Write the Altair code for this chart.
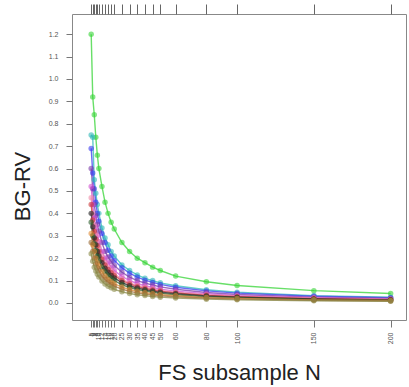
import altair as alt
import pandas as pd

N = [5, 6, 7, 8, 9, 10, 12, 14, 16, 18, 20, 25, 30, 35, 40, 45, 50, 60, 80, 100, 150, 200]

series_names = ["s01", "s02", "s03", "s04", "s05", "s06", "s07", "s08", "s09", "s10", "s11", "s12"]
series_colors = ["#35d435", "#2fb8b8", "#3a3af0", "#7a3aa8", "#d050d0", "#ee8aa8",
                 "#cc3a3a", "#202020", "#2f5f2f", "#e08a35", "#9a6a35", "#8a8a48"]

s01 = [1.20, 0.92, 0.84, 0.74, 0.66, 0.60, 0.52, 0.45, 0.40, 0.36, 0.33, 0.27, 0.23, 0.20, 0.18, 0.16, 0.145, 0.12, 0.095, 0.078, 0.055, 0.042]
s02 = [0.75, 0.74, 0.55, 0.49, 0.44, 0.40, 0.335, 0.29, 0.26, 0.23, 0.21, 0.17, 0.145, 0.125, 0.11, 0.10, 0.09, 0.077, 0.059, 0.048, 0.033, 0.026]
s03 = [0.69, 0.58, 0.51, 0.45, 0.40, 0.365, 0.31, 0.27, 0.235, 0.21, 0.19, 0.157, 0.133, 0.115, 0.102, 0.092, 0.083, 0.07, 0.054, 0.044, 0.030, 0.023]
s04 = [0.60, 0.51, 0.44, 0.39, 0.35, 0.32, 0.27, 0.23, 0.205, 0.185, 0.167, 0.137, 0.115, 0.10, 0.089, 0.08, 0.072, 0.061, 0.047, 0.038, 0.026, 0.020]
s05 = [0.52, 0.44, 0.38, 0.34, 0.30, 0.275, 0.23, 0.20, 0.18, 0.16, 0.145, 0.119, 0.10, 0.087, 0.077, 0.069, 0.062, 0.053, 0.041, 0.033, 0.023, 0.018]
s06 = [0.47, 0.40, 0.345, 0.305, 0.275, 0.25, 0.21, 0.18, 0.16, 0.145, 0.13, 0.107, 0.09, 0.078, 0.07, 0.062, 0.056, 0.048, 0.037, 0.030, 0.021, 0.016]
s07 = [0.44, 0.37, 0.32, 0.285, 0.255, 0.23, 0.195, 0.17, 0.15, 0.135, 0.123, 0.10, 0.085, 0.073, 0.065, 0.058, 0.053, 0.045, 0.034, 0.028, 0.019, 0.015]
s08 = [0.40, 0.34, 0.29, 0.26, 0.23, 0.21, 0.18, 0.155, 0.137, 0.123, 0.112, 0.091, 0.077, 0.067, 0.059, 0.053, 0.048, 0.041, 0.031, 0.026, 0.018, 0.014]
s09 = [0.36, 0.30, 0.265, 0.235, 0.21, 0.19, 0.16, 0.14, 0.123, 0.11, 0.10, 0.082, 0.069, 0.06, 0.053, 0.048, 0.043, 0.037, 0.028, 0.023, 0.016, 0.012]
s10 = [0.31, 0.26, 0.23, 0.20, 0.18, 0.165, 0.14, 0.12, 0.106, 0.095, 0.086, 0.071, 0.06, 0.052, 0.046, 0.041, 0.037, 0.032, 0.024, 0.020, 0.014, 0.011]
s11 = [0.27, 0.23, 0.20, 0.175, 0.157, 0.143, 0.12, 0.105, 0.093, 0.083, 0.075, 0.062, 0.052, 0.045, 0.04, 0.036, 0.032, 0.028, 0.021, 0.017, 0.012, 0.009]
s12 = [0.22, 0.186, 0.16, 0.143, 0.128, 0.116, 0.098, 0.085, 0.075, 0.068, 0.061, 0.05, 0.042, 0.037, 0.033, 0.029, 0.026, 0.022, 0.017, 0.014, 0.010, 0.0075]

y_ticks = [0.0, 0.1, 0.2, 0.3, 0.4, 0.5, 0.6, 0.7, 0.8, 0.9, 1.0, 1.1, 1.2]

all_series = [s01, s02, s03, s04, s05, s06, s07, s08, s09, s10, s11, s12]
rows = []
for name, vals in zip(series_names, all_series):
    for n, v in zip(N, vals):
        rows.append({"N": n, "BGRV": v, "series": name})
df = pd.DataFrame(rows)

color_scale = alt.Scale(domain=series_names, range=series_colors)
x_scale = alt.Scale(domain=[-7.5, 210], nice=False, zero=False)
y_scale = alt.Scale(domain=[-0.076, 1.29], nice=False, zero=False)

x_bottom = alt.X(
    "N:Q", scale=x_scale,
    axis=alt.Axis(
        orient="bottom", values=N, labelAngle=270, labelFontSize=7, labelColor="#555555",
        labelOverlap=False, labelPadding=5, tickSize=7, tickColor="#777777",
        domain=False, grid=False, title="FS subsample N", titleFontSize=22,
        titleFontWeight="normal", titleColor="#222222", titleFont="Liberation Sans",
        titleX=167, titleY=52, titleBaseline="middle", titleAlign="center",
    ),
)
y_left = alt.Y(
    "BGRV:Q", scale=y_scale,
    axis=alt.Axis(
        values=y_ticks, format=".1f", labelFontSize=7, labelColor="#555555",
        labelOverlap=False, tickSize=6, tickColor="#777777", labelPadding=8,
        domain=False, grid=False,
        title="BG-RV", titleFontSize=22, titleFontWeight="normal", titleColor="#222222",
        titleFont="Liberation Sans", titleX=-50, titleY=172, titleAlign="center",
        titleBaseline="middle", titleAngle=270,
    ),
)

base = alt.Chart(df)

lines = base.mark_line(strokeWidth=1.4, opacity=0.75).encode(
    x=x_bottom, y=y_left,
    color=alt.Color("series:N", scale=color_scale, legend=None),
    detail="series:N",
)
points = base.mark_circle(size=30, opacity=0.6).encode(
    x=alt.X("N:Q", scale=x_scale, axis=None),
    y=alt.Y("BGRV:Q", scale=y_scale, axis=None),
    color=alt.Color("series:N", scale=color_scale, legend=None),
)
top_rug = base.mark_point(opacity=0).encode(
    x=alt.X("N:Q", scale=x_scale,
            axis=alt.Axis(orient="top", values=N, labels=False, tickSize=10,
                          tickColor="#666666", domain=False, grid=False, title=None)),
    y=alt.Y("BGRV:Q", scale=y_scale, axis=None),
)

chart = alt.layer(lines, points, top_rug).resolve_axis(x="independent", y="independent").properties(
    width=334, height=306,
    autosize=alt.AutoSizeParams(type="none"),
    padding={"left": 72, "top": 14, "right": 3, "bottom": 67},
    background="white",
).configure_view(stroke="#888888", strokeWidth=1)

chart.save("out.html", embed_options={"renderer": "svg", "actions": False})
